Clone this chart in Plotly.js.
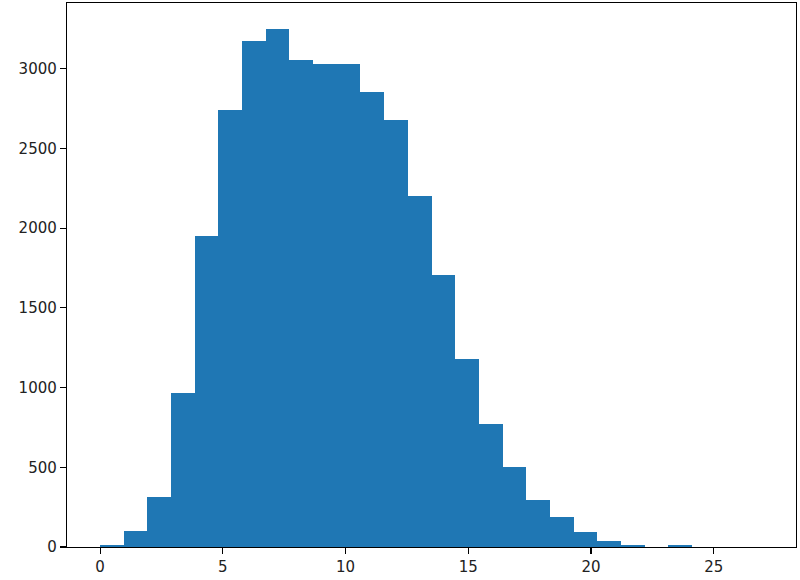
<!DOCTYPE html>
<html>
<head>
<meta charset="utf-8">
<script src="https://cdn.plot.ly/plotly-3.0.1.min.js"></script>
<style>html,body{margin:0;padding:0;background:#fff;}#chart{width:800px;height:580px;}</style>
</head>
<body>
<div id="chart"></div>
<script>
// Histogram: 28 equal bins spanning 0 to 27
const binStart = 0;
const binEnd = 27;
const counts = [10, 100, 311, 967, 1949, 2743, 3175, 3250, 3056, 3030, 3030, 2853, 2680, 2199, 1704, 1177, 769, 499, 296, 186, 92, 36, 10, 2, 10, 0, 0, 1];
const xTicks = [0, 5, 10, 15, 20, 25];
const yTicks = [0, 500, 1000, 1500, 2000, 2500, 3000];

const binWidth = (binEnd - binStart) / counts.length;
const centers = counts.map((_, i) => binStart + binWidth * (i + 0.5));
const maxCount = Math.max(...counts);
const xPad = (binEnd - binStart) * 0.05;

const trace = {
  type: 'bar',
  x: centers,
  y: counts,
  width: binWidth,
  marker: {color: '#1f77b4', line: {width: 0}},
  hoverinfo: 'x+y'
};

const axisCommon = {
  showgrid: false,
  zeroline: false,
  showline: true,
  mirror: true,
  linecolor: '#000',
  linewidth: 1.2,
  ticks: 'outside',
  ticklen: 6,
  tickwidth: 1.2,
  tickcolor: '#000',
  tickfont: {family: 'DejaVu Sans', size: 15, color: '#222'}
};

const layout = {
  width: 800,
  height: 580,
  margin: {l: 67, r: 4, t: 3, b: 33},
  paper_bgcolor: '#fff',
  plot_bgcolor: '#fff',
  showlegend: false,
  bargap: 0,
  xaxis: Object.assign({}, axisCommon, {
    range: [binStart - xPad, binEnd + xPad],
    tickmode: 'array',
    tickvals: xTicks,
    ticktext: xTicks.map(String)
  }),
  yaxis: Object.assign({}, axisCommon, {
    range: [0, maxCount * 1.05],
    tickmode: 'array',
    tickvals: yTicks,
    ticktext: yTicks.map(String)
  })
};

Plotly.newPlot('chart', [trace], layout, {displayModeBar: false, staticPlot: true});
</script>
</body>
</html>
